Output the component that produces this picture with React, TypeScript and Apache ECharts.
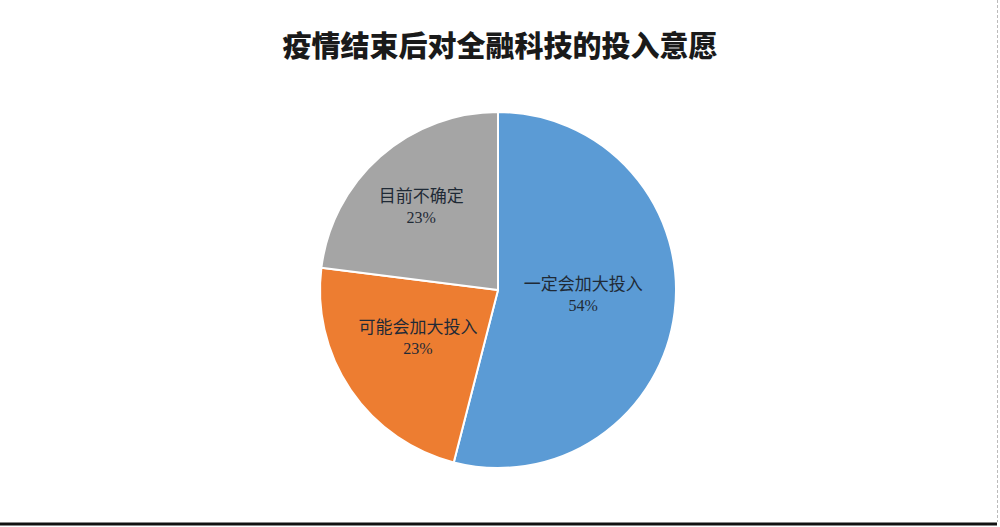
import React, { useEffect, useRef } from "react";
import * as echarts from "echarts";

const titleText = "疫情结束后对全融科技的投入意愿";
const categories = ["一定会加大投入", "可能会加大投入", "目前不确定"];
const values = [54, 23, 23];
const colors = ["#5B9BD5", "#ED7D31", "#A5A5A5"];
const labelPads = [
  [0, 12, 16, 0],
  [0, 8, 10, 0],
  [0, 32, 30, 0],
];

export default function App() {
  const ref = useRef<HTMLDivElement>(null);
  useEffect(() => {
    document.body.style.margin = "0";
    const chart = echarts.init(ref.current!, null, { renderer: "svg" });
    chart.setOption({
      animation: false,
      backgroundColor: "#ffffff",
      title: {
        text: titleText,
        left: "center",
        top: 24,
        textStyle: {
          fontFamily: "Noto Sans CJK SC",
          fontWeight: 900,
          fontSize: 29,
          color: "#1a1a1a",
        },
      },
      graphic: [
        {
          type: "line",
          shape: { x1: 0, y1: 524, x2: 997, y2: 524 },
          style: { stroke: "#111", lineWidth: 3 },
        },
        {
          type: "line",
          shape: { x1: 997.5, y1: 0, x2: 997.5, y2: 522 },
          style: { stroke: "#bbb", lineWidth: 1, lineDash: [3, 2] },
        },
      ],
      series: [
        {
          type: "pie",
          center: [498, 290],
          radius: 178,
          startAngle: 90,
          clockwise: true,
          data: categories.map((c, i) => ({
            name: c,
            value: values[i],
            itemStyle: { color: colors[i] },
            label: { padding: labelPads[i] },
          })),
          itemStyle: { borderColor: "#ffffff", borderWidth: 2 },
          label: {
            position: "inside",
            formatter: "{n|{b}}\n{p|{d}%}",
            rich: {
              n: {
                fontFamily: "Noto Sans CJK SC",
                fontSize: 17,
                color: "#1f2a36",
                lineHeight: 24,
              },
              p: {
                fontFamily: "Liberation Serif",
                fontSize: 16,
                color: "#1f2a36",
                lineHeight: 22,
              },
            },
          },
          labelLine: { show: false },
          emphasis: { disabled: true },
        },
      ],
    });
    return () => chart.dispose();
  }, []);
  return <div ref={ref} style={{ width: 1000, height: 527 }} />;
}
